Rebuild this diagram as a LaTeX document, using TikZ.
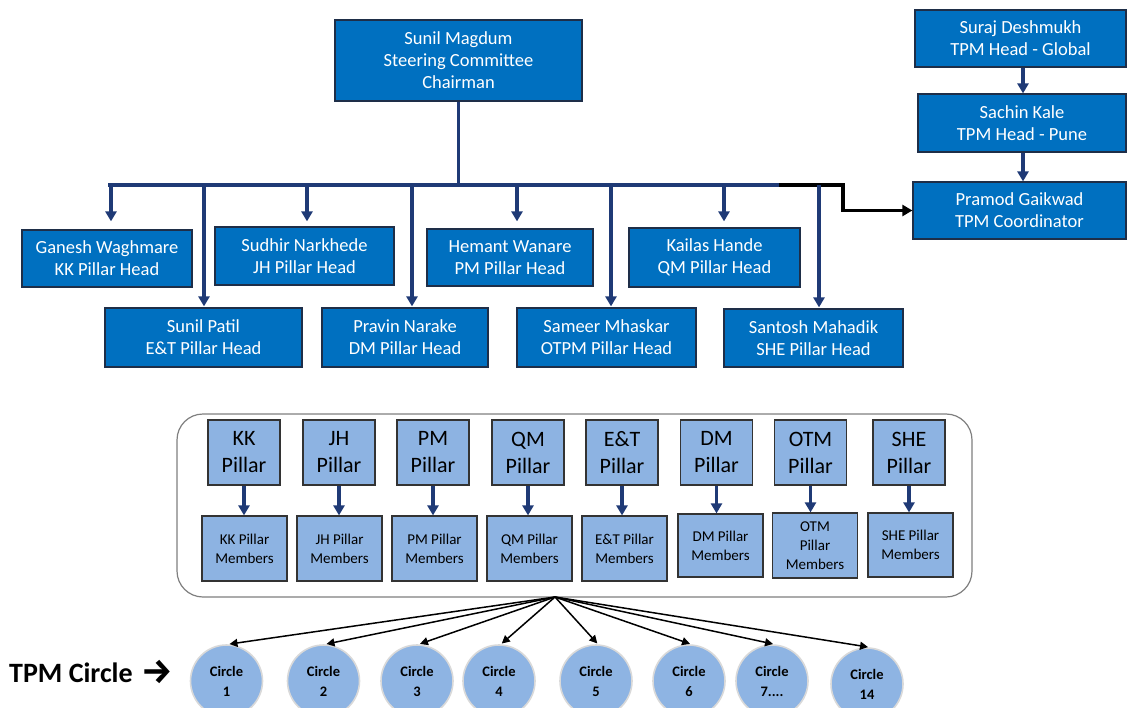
\documentclass[tikz,border=0pt]{standalone}
\usepackage{fontspec}
\setmainfont{Carlito}
\newfontfamily\arrowfont{Fira Sans}
\usetikzlibrary{arrows.meta,shapes.geometric}

\definecolor{headblue}{HTML}{0070C0}
\definecolor{headedge}{HTML}{1E2E48}
\definecolor{navy}{HTML}{1F3A76}
\definecolor{pillarblue}{HTML}{8DB3E2}
\definecolor{circleblue}{HTML}{8EB4E3}
\definecolor{groupedge}{HTML}{7F7F7F}

\begin{document}
\begin{tikzpicture}[x=1pt,y=-1pt,
  head/.style={draw=headedge, line width=1.2pt, fill=headblue, text=white,
    font=\fontsize{18.5}{22}\selectfont, align=center, inner sep=0pt},
  pillar/.style={draw=black!80, line width=1.2pt, fill=pillarblue,
    font=\fontsize{22}{27}\selectfont, align=center, inner sep=0pt,
    minimum width=72, minimum height=65},
  members/.style={draw=black!80, line width=1.2pt, fill=pillarblue,
    font=\fontsize{15}{19}\selectfont, align=center, inner sep=0pt,
    minimum width=85, minimum height=65},
  circ/.style={ellipse, draw=black!15, line width=1.6pt, fill=circleblue,
    font=\bfseries\fontsize{14.5}{20}\selectfont, align=center, inner sep=0pt,
    minimum width=72, minimum height=72},
  busline/.style={draw=navy, line width=3.2pt},
  drop/.style={draw=navy, line width=3.2pt,
    -{Triangle[length=10pt,width=11pt]}},
  link/.style={draw=black, line width=3.2pt,
    -{Triangle[length=10pt,width=11pt]}},
  fan/.style={draw=black, line width=1.5pt,
    -{Triangle[length=8pt,width=8pt]}},
]
\useasboundingbox (0,0) rectangle (1131,708);

% steering committee and TPM office
\node[head, minimum width=247, minimum height=81] (chair) at (458.5,60.5)
  {Sunil Magdum\\Steering Committee\\Chairman};
\node[head, minimum width=211, minimum height=57] (suraj) at (1020.5,38.5)
  {Suraj Deshmukh\\TPM Head - Global};
\node[head, minimum width=208, minimum height=58] (sachin) at (1022,123)
  {Sachin Kale\\TPM Head - Pune};
\node[head, minimum width=213, minimum height=57] (pramod) at (1019.5,210.5)
  {Pramod Gaikwad\\TPM Coordinator};

% pillar heads, upper row
\node[head, minimum width=170, minimum height=57] (ganesh) at (107,258.5)
  {Ganesh Waghmare\\KK Pillar Head};
\node[head, minimum width=179, minimum height=58] (sudhir) at (304.5,256)
  {Sudhir Narkhede\\JH Pillar Head};
\node[head, minimum width=166, minimum height=57] (hemant) at (510,257.5)
  {Hemant Wanare\\PM Pillar Head};
\node[head, minimum width=171, minimum height=59] (kailas) at (714.5,257.5)
  {Kailas Hande\\QM Pillar Head};

% pillar heads, lower row
\node[head, minimum width=197, minimum height=59] (patil) at (203.5,337.5)
  {Sunil Patil\\E\&T Pillar Head};
\node[head, minimum width=166, minimum height=59] (pravin) at (405,337.5)
  {Pravin Narake\\DM Pillar Head};
\node[head, minimum width=179, minimum height=59] (sameer) at (606.5,337.5)
  {Sameer Mhaskar\\OTPM Pillar Head};
\node[head, minimum width=179, minimum height=58] (santosh) at (813.5,338)
  {Santosh Mahadik\\SHE Pillar Head};

% distribution bus
\coordinate (busL) at (110,185);
\coordinate (busR) at (777,185);
\coordinate (elbow) at (843,185);
\draw[busline] (chair.south) -- (chair.south |- busR);
\draw[link] (busR) -- (elbow) |- (pramod.west);
\draw[busline, line cap=rect] (busL) -- (busR);

\coordinate (dGanesh) at (111,185);
\coordinate (dPatil) at (204,185);
\coordinate (dSudhir) at (307,185);
\coordinate (dPravin) at (412,185);
\coordinate (dHemant) at (517,185);
\coordinate (dSameer) at (611,185);
\coordinate (dKailas) at (724,185);
\coordinate (dSantosh) at (819,185);
\draw[drop, shorten >=8pt] (dGanesh) -- (dGanesh |- ganesh.north);
\draw[drop, shorten >=5pt] (dSudhir) -- (dSudhir |- sudhir.north);
\draw[drop, shorten >=7pt] (dHemant) -- (dHemant |- hemant.north);
\draw[drop, shorten >=6pt] (dKailas) -- (dKailas |- kailas.north);
\draw[drop, shorten >=1pt] (dPatil) -- (dPatil |- patil.north);
\draw[drop, shorten >=1pt] (dPravin) -- (dPravin |- pravin.north);
\draw[drop, shorten >=1pt] (dSameer) -- (dSameer |- sameer.north);
\draw[drop, shorten >=1pt] (dSantosh) -- (dSantosh |- santosh.north);

\draw[drop] ([xshift=2.5pt]suraj.south) -- ([xshift=2.5pt]suraj.south |- sachin.north);
\draw[drop] ([xshift=1pt]sachin.south) -- ([xshift=1pt]sachin.south |- pramod.north);

% pillar group
\node[draw=groupedge, line width=1.2pt, fill=white, rounded corners=26pt,
  minimum width=795, minimum height=183, inner sep=0pt] (group) at (574.5,505.5) {};

\node[pillar] (pKK)  at (244,452.5)   {KK\\Pillar};
\node[pillar] (pJH)  at (339,452.5)   {JH\\Pillar};
\node[pillar] (pPM)  at (433,452.5)   {PM\\Pillar};
\node[pillar] (pQM)  at (528,452.5)   {QM\\Pillar};
\node[pillar] (pET)  at (622,452.5)   {E\&T\\Pillar};
\node[pillar] (pDM)  at (716.5,452.5) {DM\\Pillar};
\node[pillar] (pOTM) at (810.5,452.5) {OTM\\Pillar};
\node[pillar] (pSHE) at (909,452.5)   {SHE\\Pillar};

\node[members] (mKK)  at (244.5,548.5) {KK Pillar\\Members};
\node[members] (mJH)  at (339.5,548.5) {JH Pillar\\Members};
\node[members] (mPM)  at (434.5,548.5) {PM Pillar\\Members};
\node[members] (mQM)  at (529.5,548.5) {QM Pillar\\Members};
\node[members] (mET)  at (624.5,548.5) {E\&T Pillar\\Members};
\node[members, minimum height=63] (mDM)  at (720.5,545.5) {DM Pillar\\Members};
\node[members] (mOTM) at (815,545.5) {OTM\\Pillar\\Members};
\node[members, minimum height=64] (mSHE) at (910.5,545) {SHE Pillar\\Members};

\foreach \p/\m in {pKK/mKK, pJH/mJH, pPM/mPM, pQM/mQM, pET/mET, pDM/mDM, pOTM/mOTM, pSHE/mSHE}
  \draw[drop] (\p.south) -- (\p.south |- \m.north);

% TPM circles
\node[anchor=west, inner sep=0pt, font=\bfseries\fontsize{28}{30}\selectfont] (label) at (9,672)
  {TPM Circle\hspace{0.3em}\raisebox{-0.04em}{\scalebox{1.25}{\arrowfont\bfseries →}}};

\node[circ] (c1)  at (226.5,681) {Circle\\1};
\node[circ] (c2)  at (323.5,681) {Circle\\2};
\node[circ] (c3)  at (417,681)   {Circle\\3};
\node[circ] (c4)  at (499,681)   {Circle\\4};
\node[circ] (c5)  at (596,681)   {Circle\\5};
\node[circ] (c6)  at (689,681)   {Circle\\6};
\node[circ] (c7)  at (772,681)   {Circle\\7....};
\node[circ] (c14) at (867,684)   {Circle\\14};

\coordinate (hub) at (555,597);
\foreach \c in {c1,c2,c3,c4,c5,c6,c7,c14}
  \draw[fan, shorten >=1pt] (hub) -- ([xshift=2pt]\c.north);
\end{tikzpicture}
\end{document}
